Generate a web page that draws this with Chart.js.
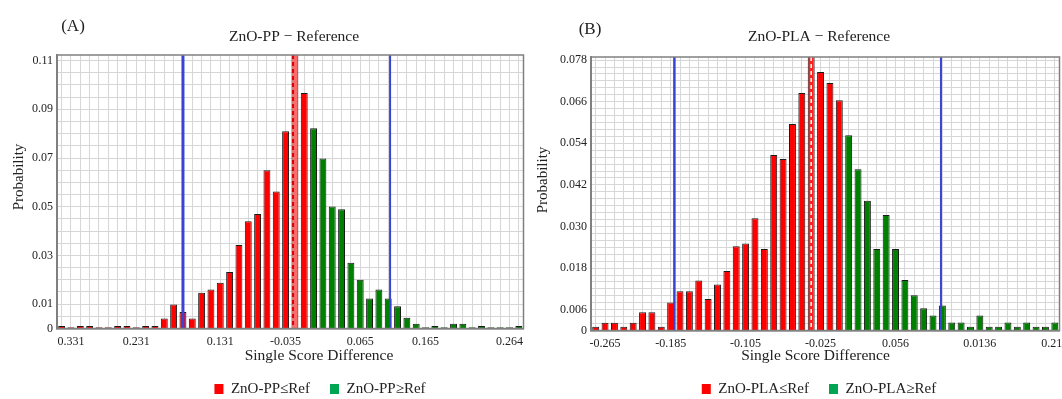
<!DOCTYPE html>
<html><head><meta charset="utf-8">
<script src="https://cdn.jsdelivr.net/npm/chart.js@4.4.1/dist/chart.umd.min.js"></script>
<style>
html,body{margin:0;padding:0;background:#fff;overflow:hidden;width:1062px;height:399px}
canvas{position:absolute;top:0}
#cA{left:0}
#cB{left:530px}
</style></head><body>
<canvas id="cA" width="530" height="399"></canvas>
<canvas id="cB" width="532" height="399"></canvas>
<script>
// ---------- Panel (A): ZnO-PP − Reference ----------
const ppLower = [0.001,0.0005,0.001,0.001,0.0005,0.0005,0.001,0.001,0.0005,0.001,0.001,0.0041,0.0099,0.0068,0.0041,0.0147,0.016,0.0188,0.0232,0.0343,0.044,0.047,0.065,0.0563,0.081,0.115,0.0967];
const ppUpper = [0.0822,0.0698,0.0501,0.049,0.027,0.020,0.0123,0.016,0.0123,0.0091,0.0044,0.002,0.0005,0.001,0.0005,0.002,0.002,0.0005,0.001,0.0005,0.0005,0.0005,0.001];
const ppXTickLabels = ['0.331','0.231','0.131','-0.035','0.065','0.165','0.264'];
const ppXTickBins = [1, 8, 17, 24, 32, 39, 48];
const ppYTickLabels = [0, 0.01, 0.03, 0.05, 0.07, 0.09, 0.11];
const ppYGridStep = 0.005;
const ppYMax = 0.1123;
const ppRefBin = 25;
const ppMeanBin = 24.8;
const ppIntervalBins = [13.0, 35.2];

// ---------- Panel (B): ZnO-PLA − Reference ----------
const plaLower = [0.0011,0.0022,0.0022,0.0011,0.0022,0.0053,0.0053,0.0011,0.0081,0.0113,0.0113,0.0144,0.0091,0.0133,0.0172,0.0243,0.0251,0.0324,0.0235,0.0506,0.0495,0.0596,0.0685,0.082,0.0746,0.0714,0.0664];
const plaUpper = [0.0563,0.0465,0.0374,0.0235,0.0333,0.0235,0.0146,0.0102,0.0064,0.0043,0.0072,0.0023,0.0023,0.0011,0.0043,0.0011,0.0011,0.0023,0.0011,0.0023,0.0011,0.0011,0.0023];
const plaXTickLabels = ['-0.265','-0.185','-0.105','-0.025','0.056','0.0136','0.216'];
const plaXTickBins = [1, 8, 16, 24, 32, 41, 49];
const plaYTickLabels = [0, 0.006, 0.018, 0.030, 0.042, 0.054, 0.066, 0.078];
const plaYGridStep = 0.002;
const plaYMax = 0.0789;
const plaRefBin = 23;
const plaMeanBin = 23.0;
const plaIntervalBins = [8.4, 36.85];

const FONT = "'Liberation Serif', 'Times New Roman', serif";
const RED = '#ff0000', GREEN = '#008000', LEGEND_GREEN = '#00a651';

const panelDecor = {
  id: 'panelDecor',
  afterLayout(chart, args, o) {
    const lg = chart.legend;
    if (!lg) return;
    const pad = lg.options.labels.padding;
    const fs = lg.options.labels.font.size;
    const w = lg.right - lg.left, h = lg.bottom - lg.top;
    lg.left = o.legendAt[0] - w / 2; lg.right = lg.left + w;
    lg.top = o.legendAt[1] - pad - fs / 2; lg.bottom = lg.top + h;
  },
  afterDatasetsDraw(chart, args, o) {
    const {ctx, chartArea: a, scales: {x}} = chart;
    ctx.save();
    const mx = x.getPixelForValue(o.meanBin);
    ctx.strokeStyle = o.meanColor; ctx.lineWidth = o.meanWidth;
    ctx.setLineDash([4, 3]);
    ctx.beginPath(); ctx.moveTo(mx, a.top); ctx.lineTo(mx, a.bottom); ctx.stroke();
    ctx.setLineDash([]);
    o.intervalBins.forEach((b, i) => {
      const px = x.getPixelForValue(b);
      ctx.strokeStyle = '#3a43d6'; ctx.lineWidth = o.intervalWidths[i];
      ctx.beginPath(); ctx.moveTo(px, a.top); ctx.lineTo(px, a.bottom); ctx.stroke();
    });
    ctx.strokeStyle = '#808080'; ctx.lineWidth = 1.5;
    ctx.strokeRect(a.left, a.top, a.right - a.left, a.bottom - a.top);
    ctx.restore();
  },
  afterDraw(chart, args, o) {
    const ctx = chart.ctx;
    ctx.save();
    ctx.fillStyle = '#222';
    ctx.textAlign = 'center'; ctx.textBaseline = 'middle';
    ctx.font = '17px ' + FONT;
    ctx.fillText(o.panel, o.panelAt[0], o.panelAt[1]);
    ctx.font = '15.5px ' + FONT;
    ctx.fillText(o.title, o.titleAt[0], o.titleAt[1]);
    ctx.fillText('Single Score Difference', o.xTitleAt[0], o.xTitleAt[1]);
    ctx.font = '15px ' + FONT;
    ctx.translate(o.yTitleAt[0], o.yTitleAt[1]);
    ctx.rotate(-Math.PI / 2);
    ctx.fillText('Probability', 0, 0);
    ctx.restore();
  }
};

function makePanel(canvasId, p) {
  const n = p.lower.length + p.upper.length;
  const labels = Array.from({length: n}, (_, i) => String(i));
  const lowerData = p.lower.concat(p.upper.map(() => null));
  const upperData = p.lower.map(() => null).concat(p.upper);
  const lowerColors = lowerData.map((_, i) => i === p.refBin ? p.refColor : RED);
  const isLabel = v => p.yLabels.some(l => Math.abs(l - v) < 1e-9);
  return new Chart(document.getElementById(canvasId), {
    type: 'bar',
    data: {
      labels,
      datasets: [
        {label: p.name + '≤Ref', data: lowerData, backgroundColor: lowerColors, legendColor: RED,
         borderColor: '#1a1a1a', borderWidth: 1, grouped: false, categoryPercentage: 1, barPercentage: 0.74},
        {label: p.name + '≥Ref', data: upperData, backgroundColor: GREEN, legendColor: LEGEND_GREEN,
         borderColor: '#1a1a1a', borderWidth: 1, grouped: false, categoryPercentage: 1, barPercentage: 0.74}
      ]
    },
    options: {
      responsive: false, animation: false, devicePixelRatio: 1,
      layout: {padding: p.padding},
      scales: {
        x: {
          type: 'category', offset: true,
          grid: {offset: false, color: '#d6d6d6', lineWidth: 1, drawTicks: false},
          border: {display: true, color: '#666', width: 1.5},
          ticks: {
            autoSkip: false, maxRotation: 0, padding: 6, color: '#222',
            font: {family: FONT, size: 12},
            callback: (v, i) => { const k = p.xBins.indexOf(i); return k >= 0 ? p.xLabels[k] : ''; }
          },
          afterFit: s => { s.height = p.xAxisHeight; s.paddingLeft = 0; s.paddingRight = 0; }
        },
        y: {
          min: 0, max: p.yMax,
          grid: {color: '#d6d6d6', lineWidth: 1, drawTicks: false},
          border: {display: true, color: '#808080', width: 2},
          afterBuildTicks: s => {
            const t = [];
            for (let k = 0; k * p.yStep <= p.yMax + 1e-9; k++) t.push({value: +(k * p.yStep).toFixed(6)});
            s.ticks = t;
          },
          ticks: {
            autoSkip: false, padding: 4, color: '#222',
            font: {family: FONT, size: 12},
            callback: v => isLabel(v) ? (Math.abs(v) < 1e-12 ? '0' : v.toFixed(p.yDigits)) : ''
          },
          afterFit: s => { s.width = p.yAxisWidth; }
        }
      },
      plugins: {
        tooltip: {enabled: false},
        legend: {
          display: true, position: 'bottom',
          labels: {
            boxWidth: 9, boxHeight: 10, padding: 20, color: '#222',
            font: {family: FONT, size: 15},
            generateLabels: chart => chart.data.datasets.map((ds, i) => ({
              text: ds.label, fillStyle: ds.legendColor, strokeStyle: ds.legendColor,
              lineWidth: 0, hidden: false, datasetIndex: i, fontColor: '#222'
            }))
          }
        },
        panelDecor: p.decor
      }
    },
    plugins: [panelDecor]
  });
}

makePanel('cA', {
  name: 'ZnO-PP', lower: ppLower, upper: ppUpper, refBin: ppRefBin, refColor: '#ff6a6a',
  xLabels: ppXTickLabels, xBins: ppXTickBins, yLabels: ppYTickLabels, yStep: ppYGridStep,
  yMax: ppYMax, yDigits: 2, yAxisWidth: 57, xAxisHeight: 25.5,
  padding: {top: 55, left: 0, right: 6.5, bottom: 0},
  decor: {
    panel: '(A)', panelAt: [73, 27], title: 'ZnO-PP − Reference', titleAt: [294, 37],
    xTitleAt: [319, 356], yTitleAt: [19, 177], legendAt: [320, 389],
    meanBin: ppMeanBin, meanColor: '#d80000', meanWidth: 2,
    intervalBins: ppIntervalBins, intervalWidths: [3, 2]
  }
});

makePanel('cB', {
  name: 'ZnO-PLA', lower: plaLower, upper: plaUpper, refBin: plaRefBin, refColor: '#ff1f1f',
  xLabels: plaXTickLabels, xBins: plaXTickBins, yLabels: plaYTickLabels, yStep: plaYGridStep,
  yMax: plaYMax, yDigits: 3, yAxisWidth: 61, xAxisHeight: 23.5,
  padding: {top: 57, left: 0, right: 2.5, bottom: 0},
  decor: {
    panel: '(B)', panelAt: [60, 30], title: 'ZnO-PLA − Reference', titleAt: [289, 37],
    xTitleAt: [285.5, 356], yTitleAt: [13, 180], legendAt: [289, 389],
    meanBin: plaMeanBin, meanColor: '#ffffff', meanWidth: 1.5,
    intervalBins: plaIntervalBins, intervalWidths: [2.5, 2]
  }
});
</script>
</body></html>
